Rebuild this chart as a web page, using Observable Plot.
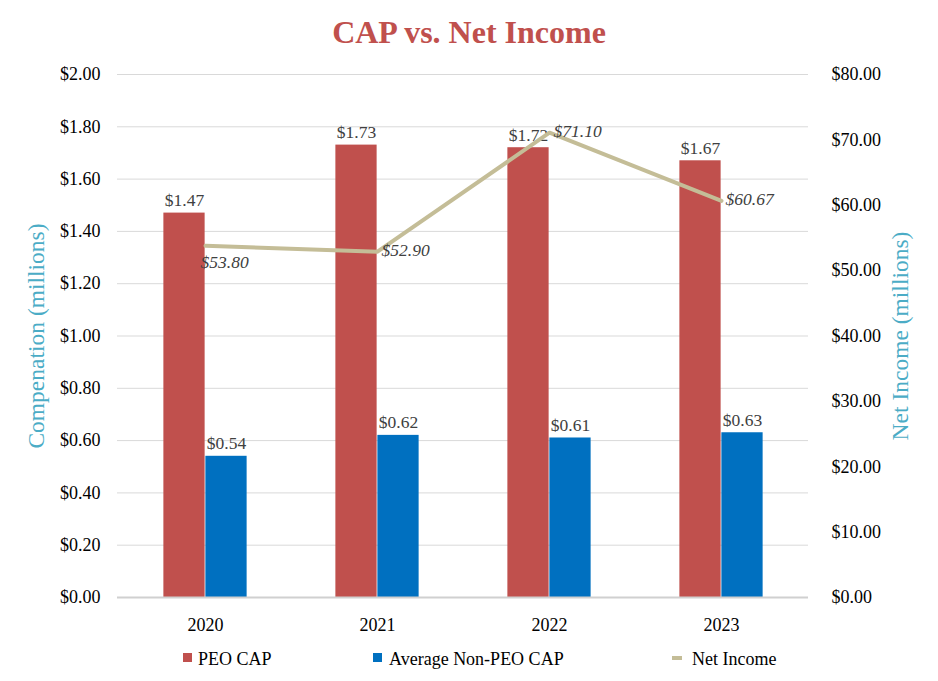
<!DOCTYPE html>
<html>
<head>
<meta charset="utf-8">
<script src="https://cdn.jsdelivr.net/npm/d3@7"></script>
<script src="https://cdn.jsdelivr.net/npm/@observablehq/plot@0.6"></script>
<style>
  html, body { margin: 0; padding: 0; background: #fff; }
  #chart { position: relative; width: 938px; height: 681px; font-family: "Liberation Serif", serif; }
  #title { position: absolute; left: 0; width: 938px; top: 16px; text-align: center;
           font-family: "Liberation Serif", serif;
           font-size: 32px; line-height: 32px; font-weight: bold; color: #C0504D; }
  #plot { position: absolute; left: 0; top: 50px; }
  #plot svg text { font-family: "Liberation Serif", serif; }
  .leg { position: absolute; top: 650px; font-family: "Liberation Serif", serif;
         font-size: 18px; line-height: 18px; color: #000; white-space: nowrap; }
  .sw { position: absolute; }
</style>
</head>
<body>
<div id="chart">
  <div id="title">CAP vs. Net Income</div>
  <div id="plot"></div>
  <div id="legend"></div>
</div>
<script>
// Fiscal years on the category axis
const years = ["2020", "2021", "2022", "2023"];
// Compensation actually paid, $ millions (left axis)
const peoCap = [1.47, 1.73, 1.72, 1.67];
const nonPeoCap = [0.54, 0.62, 0.61, 0.63];
// Net income, $ millions (right axis)
const netIncome = [53.80, 52.90, 71.10, 60.67];
// Axis extents and tick values
const capMax = 2;
const incomeMax = 80;
const capTicks = [0, 0.2, 0.4, 0.6, 0.8, 1.0, 1.2, 1.4, 1.6, 1.8, 2.0];
const incomeTicks = [0, 10, 20, 30, 40, 50, 60, 70, 80];

const colors = { peo: "#C0504D", nonPeo: "#0070C0", income: "#C4BD97" };
// Net income is drawn on the compensation scale, divided by this ratio
const ratio = incomeMax / capMax;
const font = "Liberation Serif";

const peoRows = years.map((year, i) => ({ year, value: peoCap[i] }));
const nonPeoRows = years.map((year, i) => ({ year, value: nonPeoCap[i] }));
const incomeRows = years.map((year, i) => ({ year, value: netIncome[i] }));

const money = d => "$" + d.toFixed(2);
const halfBand = 691 / 8;
const barW = 42;

const chart = Plot.plot({
  width: 938,
  height: 590,
  marginLeft: 117,
  marginRight: 130,
  marginTop: 24,
  marginBottom: 43,
  style: { fontFamily: font, fontSize: "18px", color: "#000", background: "white" },
  x: { type: "band", domain: years, padding: 0 },
  y: { domain: [0, capMax] },
  marks: [
    Plot.ruleY(capTicks.filter(d => d > 0), { stroke: "#d9d9d9", strokeWidth: 1 }),
    Plot.barY(peoRows, { x: "year", y: "value", fill: colors.peo,
      insetLeft: halfBand - barW, insetRight: halfBand }),
    Plot.barY(nonPeoRows, { x: "year", y: "value", fill: colors.nonPeo,
      insetLeft: halfBand, insetRight: halfBand - barW }),
    Plot.ruleY([0], { stroke: "#d0d0d0", strokeWidth: 2 }),
    Plot.text(peoRows, { x: "year", y: "value", text: d => money(d.value),
      dx: -barW / 2, dy: -7, lineAnchor: "bottom", fill: "#404040", fontSize: 17.5, fontFamily: font }),
    Plot.text(nonPeoRows, { x: "year", y: "value", text: d => money(d.value),
      dx: barW / 2, dy: -7, lineAnchor: "bottom", fill: "#404040", fontSize: 17.5, fontFamily: font }),
    Plot.lineY(incomeRows, { x: "year", y: d => d.value / ratio, stroke: colors.income, strokeWidth: 4 }),
    Plot.text(incomeRows.slice(0, 1), { x: "year", y: d => d.value / ratio, text: d => money(d.value),
      textAnchor: "start", dx: -5, dy: 17, fill: "#404040", fontStyle: "italic", fontSize: 17.5, fontFamily: font }),
    Plot.text(incomeRows.slice(1), { x: "year", y: d => d.value / ratio, text: d => money(d.value),
      textAnchor: "start", dx: 4, dy: -1, fill: "#404040", fontStyle: "italic", fontSize: 17.5, fontFamily: font }),
    Plot.axisY({ anchor: "left", ticks: capTicks, tickSize: 0, tickPadding: 17,
      tickFormat: money, label: null, fontSize: 18, fontFamily: font }),
    Plot.axisY({ anchor: "right", ticks: incomeTicks.map(d => d / ratio), tickSize: 0, tickPadding: 23,
      tickFormat: d => money(d * ratio), label: null, fontSize: 18, fontFamily: font }),
    Plot.axisX({ tickSize: 0, tickPadding: 21, label: null, fontSize: 18, fontFamily: font }),
    Plot.text(["Compenation (millions)"], { frameAnchor: "left", textAnchor: "middle", rotate: -90, dx: -81,
      fill: "#4BACC6", fontSize: 23.5, fontFamily: font }),
    Plot.text(["Net Income (millions)"], { frameAnchor: "right", textAnchor: "middle", rotate: -90, dx: 92,
      fill: "#4BACC6", fontSize: 23.5, fontFamily: font })
  ]
});
document.getElementById("plot").appendChild(chart);

// Legend row beneath the chart
const legendItems = [
  { label: "PEO CAP", color: colors.peo, sx: 183, sy: 653, sw: 9, sh: 9, tx: 198 },
  { label: "Average Non-PEO CAP", color: colors.nonPeo, sx: 373, sy: 653, sw: 9, sh: 9, tx: 389 },
  { label: "Net Income", color: colors.income, sx: 672, sy: 656, sw: 10, sh: 4, tx: 692 }
];
const legend = document.getElementById("legend");
for (const it of legendItems) {
  const sw = document.createElement("div");
  sw.className = "sw";
  Object.assign(sw.style, { left: it.sx + "px", top: it.sy + "px", width: it.sw + "px", height: it.sh + "px", background: it.color });
  legend.appendChild(sw);
  const t = document.createElement("div");
  t.className = "leg";
  t.style.left = it.tx + "px";
  t.textContent = it.label;
  legend.appendChild(t);
}
</script>
</body>
</html>
